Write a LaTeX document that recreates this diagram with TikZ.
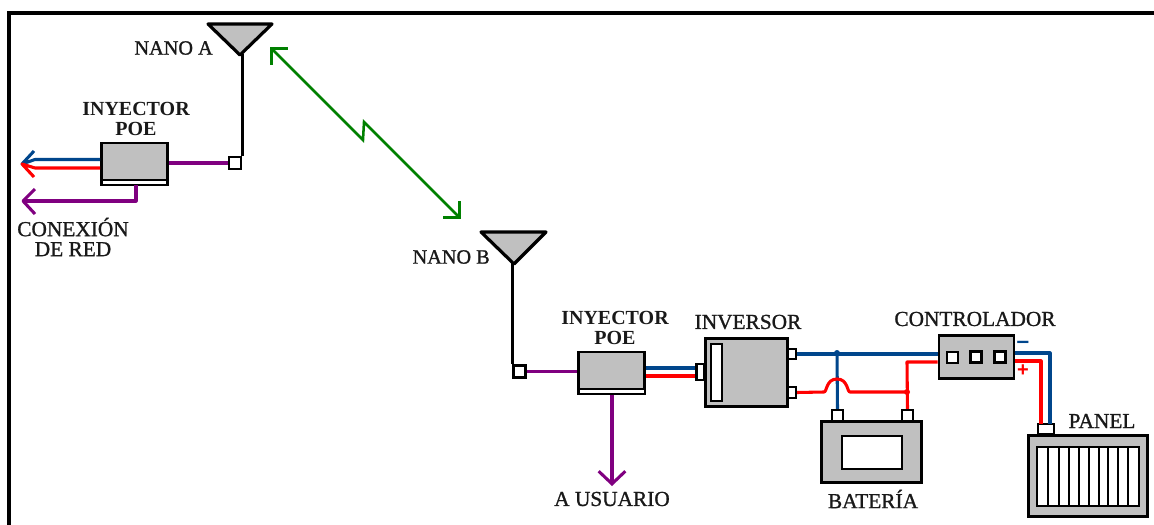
\documentclass[tikz,border=0pt]{standalone}
\usepackage{fontspec}
\setmainfont{Liberation Serif}
\newfontfamily\semifont{Liberation Serif}[FakeBold=1.1]
\newfontfamily\signfont{Liberation Sans}[BoldFont={Liberation Sans Bold}]
\usetikzlibrary{arrows.meta}
\definecolor{gfill}{RGB}{192,192,192}
\definecolor{wblue}{RGB}{0,70,140}
\definecolor{wred}{RGB}{255,0,0}
\definecolor{wpurple}{RGB}{128,0,128}
\definecolor{wgreen}{RGB}{0,128,0}
\tikzset{
 unit/.style={draw=black,line width=2.2pt,fill=gfill,inner sep=0pt},
 term/.style={draw=black,line width=1.6pt,fill=white,inner sep=0pt},
 win/.style={draw=black,line width=1.6pt,fill=white,inner sep=0pt},
 wire/.style={line width=2.3pt,line join=round},
 bluewire/.style={wire,draw=wblue},
 redwire/.style={wire,draw=wred},
 purplewire/.style={wire,draw=wpurple},
 blackwire/.style={line width=2.2pt,draw=black},
 greenwire/.style={line width=1.9pt,draw=wgreen},
 lab/.style={font=\semifont\fontsize{16pt}{15pt}\selectfont,text=black!90,inner sep=0pt,align=center},
 nlab/.style={lab,font=\semifont\fontsize{15.2pt}{15pt}\selectfont},
 blab/.style={lab,font=\fontsize{15pt}{15pt}\selectfont\bfseries},
 ant/.style={draw=black,line width=2.4pt,fill=gfill,line join=round},
 barb/.style={-{Straight Barb[length=9.5pt,width=20pt,line width=2.3pt]}},
 dbarb/.style={{Straight Barb[length=9.5pt,width=20pt,line width=1.9pt,angle=90:12.5pt]}-{Straight Barb[length=9.5pt,width=20pt,line width=1.9pt,angle=90:12.5pt]}},
}
\newcommand{\bx}[5]{\node[#1,minimum width=#4*0.75pt,minimum height=#5*0.75pt] (#2) at (#3) {};}
\begin{document}
\begin{tikzpicture}[x=0.75pt,y=-0.75pt]
\useasboundingbox (0,0) rectangle (1154,525);
\draw[line width=2.9pt] (9,525) -- (9,13) -- (1154,13);
% antennas
\draw[ant] (208,24) -- (272,24) -- (240,55) -- cycle;
\coordinate (antA) at (240,55);
\draw[ant] (481,232) -- (546,232) -- (514,264) -- cycle;
\coordinate (antB) at (514,264);
% nodes
\bx{term}{sqA}{235,163}{12}{12}
\bx{unit}{poeA}{134.5,164}{66}{42}
\bx{term}{sqB}{519.5,371.5}{12}{12}
\bx{unit}{poeB}{611.5,373}{66}{42}
\bx{unit}{inv}{746.5,372.5}{82}{68}
\bx{win}{invw}{716.5,372.5}{11}{57}
\bx{term}{invL}{700.5,372}{8}{16}
\bx{term}{invR1}{792,354}{8}{10}
\bx{term}{invR2}{792,392.5}{8}{11}
\bx{term}{batL}{837.5,415.5}{11}{11}
\bx{term}{batR}{907.5,415.5}{11}{11}
\bx{unit}{bat}{871.5,452}{100}{61}
\bx{win}{batw}{872,452.5}{60}{33}
\bx{unit}{ctl}{976.5,357}{75}{43}
\bx{term}{c1}{952.5,357.5}{11}{11}
\bx{term}{c2}{976,357}{11}{11}
\bx{term}{c3}{1000,357}{11}{11}
\bx{term}{panT}{1046,429}{16}{10}
\bx{unit}{pan}{1088,476}{119}{81}
\bx{win}{panw}{1088,476.5}{102}{59}
% strips of the injectors
\fill[white] (102.5,181) rectangle (166,184);
\draw[line width=1.2pt] (101,180) -- (167,180);
\fill[white] (579.5,390) rectangle (644,393);
\draw[line width=1.2pt] (578,389) -- (645,389);
% panel cell dividers
\foreach \x in {1048,1059,1069,1079,1089,1099,1108,1118,1128}
  \draw[line width=1.4pt] (\x,447) -- (\x,506);
% connectors, left group
\draw[blackwire] (antA) -- (sqA.east |- antA) -- (sqA.north east);
\draw[purplewire] (poeA.east |- sqA.west) -- (sqA.west);
\coordinate (tipA) at (22,164);
\coordinate (tipB) at (23,201);
\draw[bluewire] (poeA.west |- 0,159.5) -- (35,159.5) -- (tipA) -- (34,151);
\draw[redwire] (poeA.west |- 0,168) -- (35,168) -- (tipA) -- (34,177);
\draw[purplewire] (136,185) -- (136,201) -- (tipB);
\draw[purplewire] (35,189) -- (tipB) -- (35,214);
% connectors, right group
\draw[blackwire] (antB) -- (sqB.west |- antB) -- (sqB.north west);
\draw[purplewire] (sqB.east) -- (poeB.west |- sqB.east);
\draw[bluewire] (poeB.east |- 0,368) -- (invL.west |- 0,368);
\draw[redwire] (poeB.east |- 0,376) -- (invL.west |- 0,376);
\draw[purplewire,barb] (612,394.5) -- (612,486);
\draw[bluewire] (invR1.east) -- (ctl.west |- invR1.east);
\draw[bluewire] (837,353) -- (batL.north);
\fill[wblue] (837,353) circle (3);
\draw[redwire] (invR2.east) -- (824,392) .. controls (827,392) and (826,379) .. (837,379) .. controls (848,379) and (847,392) .. (850,392) -- (907,392);
\draw[redwire] (batR.north) -- (907,362) -- (ctl.west |- 0,362);
\fill[wred] (907,392) circle (3);
\draw[bluewire] (ctl.east |- 0,353) -- (1050,353) -- (1050,424);
\draw[redwire] (ctl.east |- 0,361) -- (1041,361) -- (1041,424);
% radio link
\coordinate (ln1) at (270,47); \coordinate (ln2) at (461,219);
\draw[greenwire,dbarb,line join=miter] (ln1) -- (363,140) -- (364,122) -- (ln2);
% labels
\node[nlab,anchor=east] (nanoa) at (213,48) {NANO A};
\node[nlab,anchor=east] (nanob) at (490,257) {NANO B};
\node[blab] (ipa) at (136,119) {INYECTOR\\POE};
\node[blab] (ipb) at (615,328) {INYECTOR\\POE};
\node[lab] (red) at (73,237) {CONEXIÓN\\DE RED};
\node[lab] (usu) at (612,499) {A USUARIO};
\node[lab] (invl) at (748,322) {INVERSOR};
\node[lab] (ctll) at (975,319) {CONTROLADOR};
\node[lab] (batl) at (873,499) {BATERÍA};
\node[lab] (panl) at (1102,421) {PANEL};
\node[font=\signfont\bfseries\fontsize{17pt}{17pt}\selectfont,text=wblue,inner sep=0pt] (minus) at (1023,345) {–};
\node[font=\signfont\bfseries\fontsize{15pt}{15pt}\selectfont,text=wred,inner sep=0pt] (plus) at (1023,371) {+};
\end{tikzpicture}
\end{document}
